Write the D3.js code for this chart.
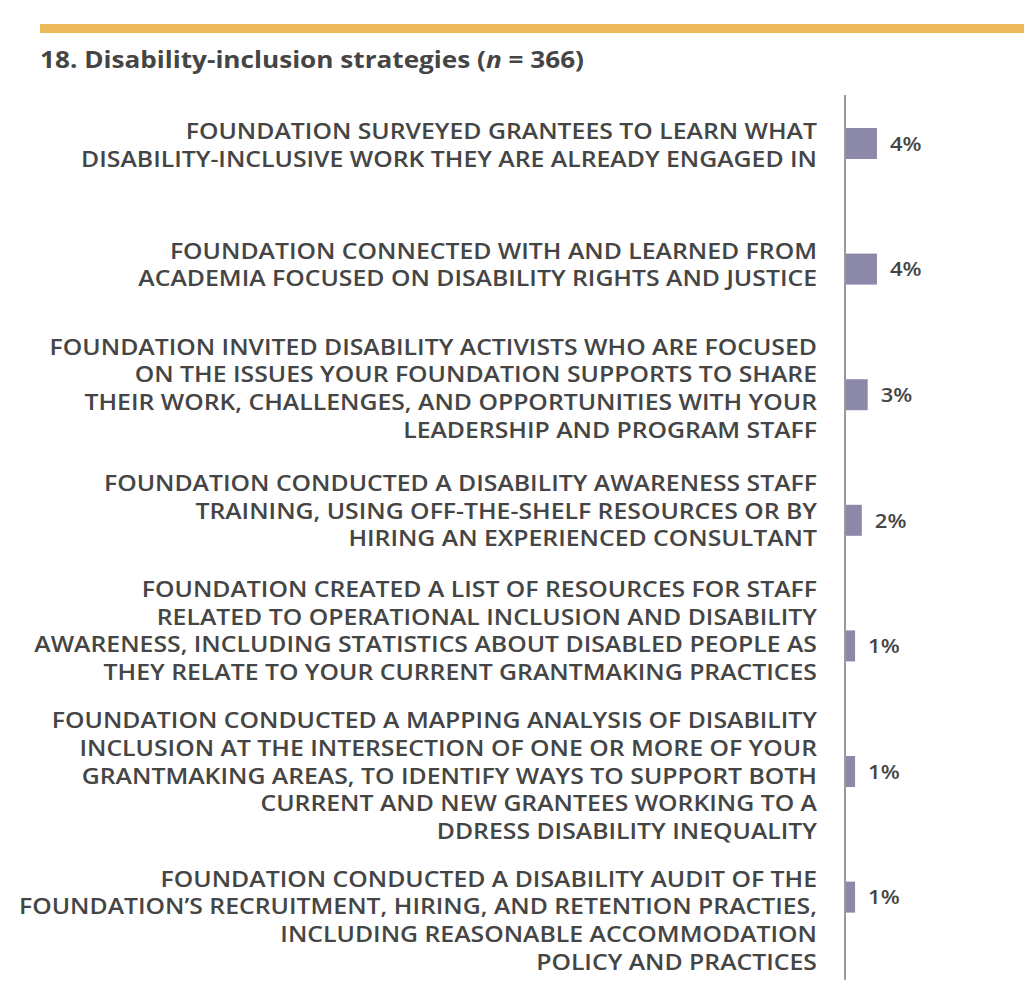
<!DOCTYPE html>
<html>
<head>
<meta charset="utf-8">
<script src="https://cdn.jsdelivr.net/npm/d3@7"></script>
<style>
  html, body { margin: 0; padding: 0; background: #ffffff; }
  svg { display: block; }
</style>
</head>
<body>
<svg id="chart" width="1024" height="1008"></svg>
<script>
// ---- Data ----
const titleMain = "18. Disability-inclusion strategies (";
const titleN = "n";
const titleRest = " = 366)";

const categories = [
  ["FOUNDATION SURVEYED GRANTEES TO LEARN WHAT",
   "DISABILITY-INCLUSIVE WORK THEY ARE ALREADY ENGAGED IN"],
  ["FOUNDATION CONNECTED WITH AND LEARNED FROM",
   "ACADEMIA FOCUSED ON DISABILITY RIGHTS AND JUSTICE"],
  ["FOUNDATION INVITED DISABILITY ACTIVISTS WHO ARE FOCUSED",
   "ON THE ISSUES YOUR FOUNDATION SUPPORTS TO SHARE",
   "THEIR WORK, CHALLENGES, AND OPPORTUNITIES WITH YOUR",
   "LEADERSHIP AND PROGRAM STAFF"],
  ["FOUNDATION CONDUCTED A DISABILITY AWARENESS STAFF",
   "TRAINING, USING OFF-THE-SHELF RESOURCES OR BY",
   "HIRING AN EXPERIENCED CONSULTANT"],
  ["FOUNDATION CREATED A LIST OF RESOURCES FOR STAFF",
   "RELATED TO OPERATIONAL INCLUSION AND DISABILITY",
   "AWARENESS, INCLUDING STATISTICS ABOUT DISABLED PEOPLE AS",
   "THEY RELATE TO YOUR CURRENT GRANTMAKING PRACTICES"],
  ["FOUNDATION CONDUCTED A MAPPING ANALYSIS OF DISABILITY",
   "INCLUSION AT THE INTERSECTION OF ONE OR MORE OF YOUR",
   "GRANTMAKING AREAS, TO IDENTIFY WAYS TO SUPPORT BOTH",
   "CURRENT AND NEW GRANTEES WORKING TO A",
   "DDRESS DISABILITY INEQUALITY"],
  ["FOUNDATION CONDUCTED A DISABILITY AUDIT OF THE",
   "FOUNDATION\u2019S RECRUITMENT, HIRING, AND RETENTION PRACTIES,",
   "INCLUDING REASONABLE ACCOMMODATION",
   "POLICY AND PRACTICES"]
];
const values = [3.8, 3.8, 2.7, 2.0, 1.2, 1.2, 1.2];      // percent (estimated)
const valueLabels = ["4%", "4%", "3%", "2%", "1%", "1%", "1%"];

// ---- Layout ----
const W = 1024, H = 1008;
const axisX = 845;
const labelRight = 817;
const lineH = 27.6;
const labelShift = [2, -4, -6, -9, -15, 4.5, 23.5]; // block-center offset from bar center
const barH = 31;
const textColor = "#454545";
const barColor = "#8b88a9";
const font = "'Open Sans', 'DejaVu Sans', sans-serif";
const stretch = 1.18; // horizontal widening to mimic the wide geometric face

const svg = d3.select("#chart");

// top gold rule
svg.append("rect").attr("x", 40).attr("y", 24).attr("width", W - 40).attr("height", 9)
  .attr("fill", "#ebb95a");

// title
const title = svg.append("text")
  .attr("x", 40).attr("y", 68)
  .attr("font-family", font).attr("font-weight", 700).attr("font-size", 23)
  .attr("fill", textColor);
title.append("tspan").text(titleMain);
title.append("tspan").attr("font-style", "italic").text(titleN);
title.append("tspan").text(titleRest);
title.attr("textLength", 544).attr("lengthAdjust", "spacingAndGlyphs");

const idx = d3.range(categories.length);
const y = d3.scalePoint().domain(idx).range([143.5, 897.1]).padding(0);
const x = d3.scaleLinear().domain([0, 10]).range([axisX, axisX + 84]);

// bars
svg.append("g").selectAll("rect").data(idx).join("rect")
  .attr("x", x(0))
  .attr("y", i => y(i) - barH / 2)
  .attr("width", i => x(values[i]) - x(0))
  .attr("height", barH)
  .attr("fill", barColor);

// axis line (category axis)
svg.append("line")
  .attr("x1", axisX).attr("x2", axisX)
  .attr("y1", 95).attr("y2", 980)
  .attr("stroke", "#9a9a9a").attr("stroke-width", 2);

// value labels
svg.append("g").selectAll("text").data(idx).join("text")
  .attr("x", i => x(values[i]) + 13)
  .attr("y", i => y(i))
  .attr("dy", "0.36em")
  .attr("font-family", font).attr("font-weight", 600).attr("font-size", 20)
  .attr("fill", textColor)
  .text(i => valueLabels[i])
  .each(function () {
    const w = this.getComputedTextLength();
    d3.select(this).attr("textLength", w * 1.1).attr("lengthAdjust", "spacingAndGlyphs");
  });

// category labels
const lg = svg.append("g");
idx.forEach(i => {
  const lines = categories[i];
  const c = y(i) + labelShift[i];
  const top = c - (lines.length - 1) * lineH / 2;
  lines.forEach((ln, j) => {
    const t = lg.append("text")
      .attr("x", labelRight)
      .attr("y", top + j * lineH)
      .attr("dy", "0.36em")
      .attr("text-anchor", "end")
      .attr("font-family", font).attr("font-weight", 600).attr("font-size", 21)
      .attr("fill", textColor)
      .text(ln);
    const w = t.node().getComputedTextLength();
    t.attr("textLength", w * stretch).attr("lengthAdjust", "spacingAndGlyphs");
  });
});
</script>
</body>
</html>
